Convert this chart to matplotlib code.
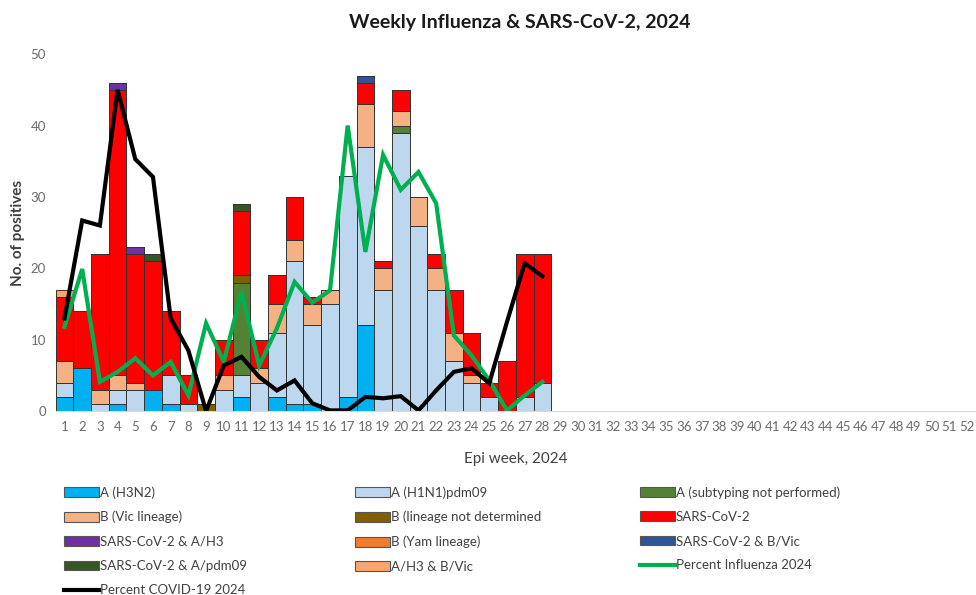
import numpy as np
import matplotlib
matplotlib.use("Agg")
import matplotlib.pyplot as plt
from matplotlib.patches import Patch
from matplotlib.lines import Line2D

plt.rcParams['font.family'] = ['Lato', 'DejaVu Sans']

weeks = list(range(1, 53))
n_data = 28

# counts per epi week (weeks 1-28), stacked in this order
h3n2        = [2, 6, 0, 1, 0, 3, 1, 0, 0, 0, 2, 0, 2, 1, 1, 0, 2, 12, 0, 0, 0, 0, 0, 0, 0, 0, 0, 0]
h1n1        = [2, 0, 1, 2, 3, 0, 4, 1, 0, 3, 3, 4, 9, 20, 11, 15, 31, 25, 17, 39, 26, 17, 7, 4, 2, 0, 2, 4]
a_notsub    = [0, 0, 0, 0, 0, 0, 0, 0, 0, 0, 13, 0, 0, 0, 0, 0, 0, 0, 0, 1, 0, 0, 0, 0, 0, 0, 0, 0]
b_vic       = [3, 0, 2, 2, 1, 0, 0, 0, 0, 2, 0, 2, 4, 3, 3, 2, 0, 6, 3, 2, 4, 3, 4, 1, 0, 0, 0, 0]
b_lnd       = [0, 0, 0, 0, 0, 0, 0, 0, 1, 0, 1, 0, 0, 0, 0, 0, 0, 0, 0, 0, 0, 0, 0, 0, 0, 0, 0, 0]
sars        = [9, 8, 19, 40, 18, 18, 9, 4, 0, 5, 9, 4, 4, 6, 1, 0, 0, 3, 1, 3, 0, 2, 6, 6, 2, 7, 20, 18]
sars_ah3    = [0, 0, 0, 1, 1, 0, 0, 0, 0, 0, 0, 0, 0, 0, 0, 0, 0, 0, 0, 0, 0, 0, 0, 0, 0, 0, 0, 0]
b_yam       = [0] * 28
sars_bvic   = [0, 0, 0, 0, 0, 0, 0, 0, 0, 0, 0, 0, 0, 0, 0, 0, 0, 1, 0, 0, 0, 0, 0, 0, 0, 0, 0, 0]
sars_pdm09  = [0, 0, 0, 0, 0, 1, 0, 0, 0, 0, 1, 0, 0, 0, 0, 0, 0, 0, 0, 0, 0, 0, 0, 0, 0, 0, 0, 0]
ah3_bvic    = [1, 0, 0, 0, 0, 0, 0, 0, 0, 0, 0, 0, 0, 0, 0, 0, 0, 0, 0, 0, 0, 0, 0, 0, 0, 0, 0, 0]

# percent positive lines
pct_flu   = [11.8, 19.9, 4.1, 5.5, 7.4, 5.0, 6.9, 2.2, 12.3, 6.9, 16.7, 6.4, 11.6, 18.1,
             15.2, 16.9, 40.0, 22.3, 35.9, 31.0, 33.5, 29.1, 10.6, 7.8, 4.3, 0.1, 2.2, 4.1]
pct_covid = [13.0, 26.7, 26.0, 45.0, 35.3, 32.8, 13.0, 8.5, 0.0, 6.4, 7.6, 4.8, 2.9, 4.3,
             1.1, 0.1, 0.1, 2.0, 1.8, 2.1, 0.1, 2.9, 5.5, 6.0, 3.9, 12.5, 20.7, 18.9]

series = [
    ("A (H3N2)", h3n2, "#00B0F0"),
    ("A (H1N1)pdm09", h1n1, "#BDD7EE"),
    ("A (subtyping not performed)", a_notsub, "#548235"),
    ("B (Vic lineage)", b_vic, "#F4B183"),
    ("B (lineage not determined", b_lnd, "#7F6000"),
    ("SARS-CoV-2", sars, "#FF0000"),
    ("SARS-CoV-2 & A/H3", sars_ah3, "#7030A0"),
    ("B (Yam lineage)", b_yam, "#ED7D31"),
    ("SARS-CoV-2 & B/Vic", sars_bvic, "#2F5597"),
    ("SARS-CoV-2 & A/pdm09", sars_pdm09, "#375623"),
    ("A/H3 & B/Vic", ah3_bvic, "#F8A66E"),
]

fig = plt.figure(figsize=(9.76, 5.95), dpi=100)
ax = fig.add_axes([0.057, 0.309, 0.943, 0.600])

x = np.arange(1, n_data + 1)
bottom = np.zeros(n_data)
for label, vals, col in series:
    vals = np.array(vals, dtype=float)
    ax.bar(x, vals, width=1.0, bottom=bottom, color=col,
           edgecolor="#333333", linewidth=0.7)
    bottom += vals

ax.plot(x, pct_flu, color="#00B050", linewidth=3, solid_joinstyle="miter")
ax.plot(x, pct_covid, color="black", linewidth=3, solid_joinstyle="miter")

ax.set_xlim(0.5, 52.5)
ax.set_ylim(0, 50)
ax.set_xticks(weeks)
ax.set_xticklabels([str(w) for w in weeks])
ax.set_yticks(range(0, 51, 10))
ax.tick_params(axis="both", length=0, labelsize=9.5, colors="#6b6b6b", pad=7)
for s in ["top", "right", "left"]:
    ax.spines[s].set_visible(False)
ax.spines["bottom"].set_color("#D9D9D9")

ax.set_xlabel("Epi week, 2024", fontsize=11, color="#404040", labelpad=14)
ax.set_ylabel("No. of positives", fontsize=11, color="#404040", fontweight="bold")
fig.text(0.533, 0.962, "Weekly Influenza & SARS-CoV-2, 2024", ha="center", va="center",
         fontsize=14, fontweight="bold", color="#1a1a1a")

# legend, row-wise in three columns
handles = [Patch(facecolor=c, edgecolor="#555555", linewidth=0.8) for _, _, c in series]
labels = [l for l, _, _ in series]
handles += [Line2D([], [], color="#00B050", linewidth=3), Line2D([], [], color="black", linewidth=3)]
labels += ["Percent Influenza 2024", "Percent COVID-19 2024"]

cols = [[0, 3, 6, 9, 12], [1, 4, 7, 10], [2, 5, 8, 11]]
col_x = [0.066, 0.364, 0.656]
for xi, idx in zip(col_x, cols):
    fig.legend([handles[i] for i in idx], [labels[i] for i in idx],
               loc="upper left", bbox_to_anchor=(xi, 0.183),
               frameon=False, fontsize=9.5, labelcolor="#404040",
               handlelength=2.6, handleheight=0.75, handletextpad=0.1,
               labelspacing=0.93, borderpad=0.0, borderaxespad=0.0)

fig.savefig("out.png", dpi=100)
